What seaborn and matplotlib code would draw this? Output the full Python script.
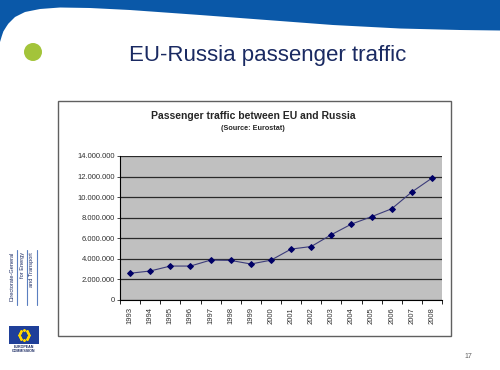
import numpy as np
import pandas as pd
import seaborn as sns
import matplotlib.pyplot as plt
from matplotlib.patches import Rectangle, Polygon, Ellipse
from matplotlib.ticker import FuncFormatter, FixedLocator

# data
years = list(range(1993, 2009))
passengers = [2600000, 2820000, 3300000, 3300000, 3880000, 3850000, 3500000, 3870000,
              4950000, 5200000, 6350000, 7380000, 8100000, 8870000, 10500000, 11850000]
ytick_values = [0, 2000000, 4000000, 6000000, 8000000, 10000000, 12000000, 14000000]

df = pd.DataFrame({'year': years, 'passengers': passengers})

sns.set_style("white")
plt.rcParams['font.family'] = ['Liberation Sans', 'DejaVu Sans']

W, H = 500, 370
fig = plt.figure(figsize=(5, 3.7), dpi=100)

def fx(x):
    return x / W

def fy(y):
    return 1 - y / H

# blue wave at top of the slide
wx = [0, 3, 8, 15, 25, 40, 60, 90, 130, 200, 280, 333, 400, 460, 500]
wy = [42, 32, 24, 17, 12, 9, 7.5, 8, 10, 15, 21, 25, 28.5, 30, 30.5]
xs = np.linspace(0, 500, 300)
ys = np.interp(xs, wx, wy)
pts = [(fx(0), 1), (fx(500), 1)] + [(fx(a), fy(b)) for a, b in zip(xs[::-1], ys[::-1])]
fig.patches.append(Polygon(pts, closed=True, transform=fig.transFigure,
                           facecolor='#0a58a8', edgecolor='none'))

# green bullet + slide title
fig.patches.append(Ellipse((fx(33), fy(52)), 18 / W, 18 / H, transform=fig.transFigure,
                           facecolor='#a3c43a', edgecolor='none'))
fig.text(fx(268), fy(55), 'EU-Russia passenger traffic', ha='center', va='center',
         fontsize=16, color='#1a2a62')

# chart frame
fig.patches.append(Rectangle((fx(58), fy(336)), (451 - 58) / W, (336 - 101) / H,
                             transform=fig.transFigure, fill=False,
                             edgecolor='#606060', lw=1))
fig.text(fx(253), fy(116), 'Passenger traffic between EU and Russia', ha='center',
         va='center', fontsize=7.5, weight='bold')
fig.text(fx(253), fy(128), '(Source: Eurostat)', ha='center', va='center',
         fontsize=5.2, weight='bold')

ax = fig.add_axes([fx(120), fy(300), (442 - 120) / W, (300 - 156) / H])
ax.set_facecolor('#c0c0c0')
ax.set_axisbelow(True)
ax.yaxis.grid(True, color='#2a2a2a', lw=0.9)

sns.lineplot(data=df, x='year', y='passengers', marker='D', markersize=3.0,
             color='#3c3c7a', markerfacecolor='#000066', markeredgecolor='#000066',
             linewidth=0.8, ax=ax)

ax.set_xlim(1992.5, 2008.5)
ax.set_ylim(0, 14000000)
ax.set_xlabel('')
ax.set_ylabel('')
ax.set_yticks(ytick_values)
ax.yaxis.set_major_formatter(FuncFormatter(lambda v, p: f"{int(v):,}".replace(',', '.')))
ax.set_xticks(years)
ax.set_xticklabels([str(y) for y in years], rotation=90)
ax.xaxis.set_minor_locator(FixedLocator([y + 0.5 for y in [1992] + years]))
ax.tick_params(axis='x', which='major', length=0, pad=5, labelsize=5.5, colors='#303030')
ax.tick_params(axis='x', which='minor', length=3, width=0.6, direction='out', color='black')
ax.tick_params(axis='y', length=2.5, width=0.6, direction='out', labelsize=5.5,
               colors='#303030', pad=1)
ax.tick_params(axis='x', which='both', bottom=True)
ax.tick_params(axis='y', left=True)
for s in ['top', 'right']:
    ax.spines[s].set_visible(False)
for s in ['left', 'bottom']:
    ax.spines[s].set_color('black')
    ax.spines[s].set_linewidth(0.8)

# left side branding
for x, txt in zip([12, 22.5, 32], ['Directorate-General', 'for Energy', 'and Transport']):
    fig.text(fx(x), fy(252), txt, rotation=90, ha='center', va='top',
             fontsize=4.1, color='#1a2a62')
for x in [16.5, 27, 37]:
    fig.lines.append(plt.Line2D([fx(x), fx(x)], [fy(250), fy(305)],
                                transform=fig.transFigure, color='#5a7fc0', lw=0.8))

logo = fig.add_axes([fx(9), fy(344), 30 / W, 18 / H])
logo.set_facecolor('#1f3f99')
ang = np.linspace(0, 2 * np.pi, 13)[:-1]
logo.scatter(np.cos(ang) * 0.55, np.sin(ang) * 0.55, marker='*', s=1.5, color='#ffd700')
logo.set_xlim(-1.6, 1.6)
logo.set_ylim(-1, 1)
logo.set_xticks([])
logo.set_yticks([])
for s in logo.spines.values():
    s.set_visible(False)
fig.text(fx(24), fy(347.5), 'EUROPEAN', ha='center', va='center', fontsize=2.6,
         color='#1a2a62', weight='bold')
fig.text(fx(24), fy(351), 'COMMISSION', ha='center', va='center', fontsize=2.6,
         color='#1a2a62', weight='bold')

fig.text(fx(468), fy(357), '17', ha='center', va='center', fontsize=5, color='#606060')

fig.savefig('out.png', dpi=100)
